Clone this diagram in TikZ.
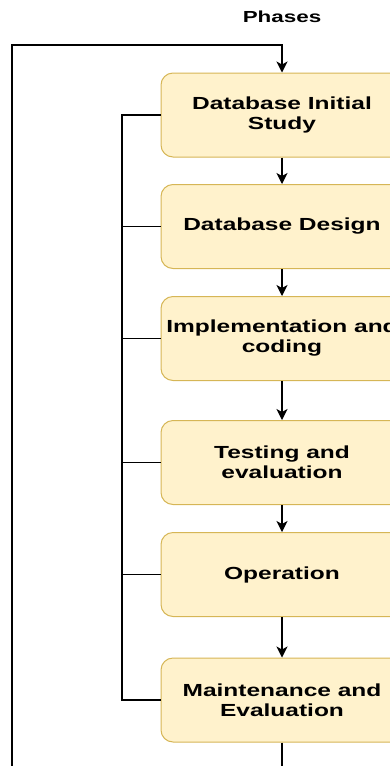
\documentclass[tikz,border=0pt]{standalone}
\usepackage{fontspec}
\setmainfont[FakeStretch=1.4]{Liberation Sans}
\usetikzlibrary{arrows.meta}
\definecolor{boxfill}{HTML}{FFF2CC}
\definecolor{boxline}{HTML}{D6B656}
\tikzset{
	phasebox/.style={draw=boxline, fill=boxfill, line width=1pt, rounded corners=12pt,
		minimum width=242pt, minimum height=84pt, inner sep=0pt, align=center,
		font=\fontsize{17.5}{20}\selectfont\bfseries},
	flow/.style={-{Stealth[length=11pt,width=11pt,inset=3pt]}, line width=1.2pt},
	link/.style={line width=1.2pt}
}
\begin{document}
\begin{tikzpicture}[x=1pt, y=-1pt]
	\clip (0,0) rectangle (390,766);
	%\draw[help lines] (0,0) grid[step=50] (390,766);
	\node (title) at (282,17) {\fontsize{16}{19}\selectfont\bfseries Phases};
	\node[phasebox] (study) at (282,115) {Database Initial\\Study};
	\node[phasebox] (design) at (282,226.5) {Database Design};
	\node[phasebox] (impl) at (282,338.5) {Implementation and\\coding};
	\node[phasebox] (test) at (282,462.5) {Testing and\\evaluation};
	\node[phasebox] (oper) at (282,574.5) {Operation};
	\node[phasebox] (maint) at (282,700) {Maintenance and\\Evaluation};
	\coordinate (bottomout) at (282,766);
	\coordinate (loopin) at (12,766);
	\coordinate (loopcorner) at (12,45);
	\coordinate (feedback) at (122,115);
	% main flow
	\draw [flow] (study)--(design);
	\draw [flow] (design)--(impl);
	\draw [flow] (impl)--(test);
	\draw [flow] (test)--(oper);
	\draw [flow] (oper)--(maint);
	\draw [link] (maint)--(bottomout);
	\draw [flow] (loopin)--(loopcorner)-|(study.north);
	% side links
	\draw [link] (study.west)--(feedback)--(feedback|-maint.west)--(maint.west);
	\draw [link] (feedback|-design.west)--(design.west);
	\draw [link] (feedback|-impl.west)--(impl.west);
	\draw [link] (feedback|-test.west)--(test.west);
	\draw [link] (feedback|-oper.west)--(oper.west);
\end{tikzpicture}
\end{document}
